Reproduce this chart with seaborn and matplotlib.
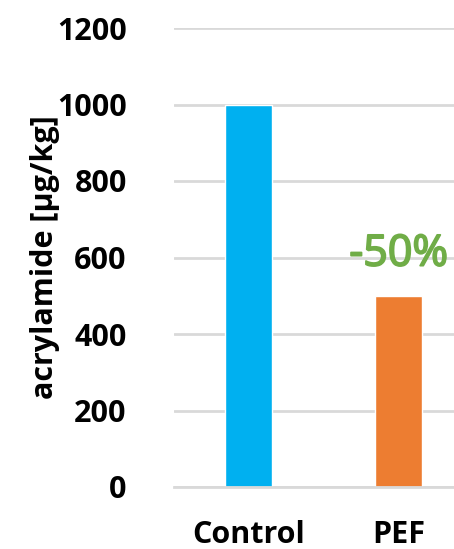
import matplotlib
matplotlib.use("Agg")
import matplotlib.pyplot as plt
import matplotlib.patheffects as pe
import pandas as pd
import seaborn as sns

categories = ["Control", "PEF"]
values = [1000, 500]
bar_colors = ["#00B0F0", "#ED7D31"]
y_ticks = [0, 200, 400, 600, 800, 1000, 1200]
change_label = "-50%"

sns.set_style("white")
plt.rcParams["font.family"] = ["Open Sans", "DejaVu Sans"]
plt.rcParams["text.color"] = "black"
plt.rcParams["xtick.color"] = "black"
plt.rcParams["ytick.color"] = "black"
plt.rcParams["axes.labelcolor"] = "black"

df = pd.DataFrame({"group": categories, "acrylamide": values})

fig = plt.figure(figsize=(4.54, 5.49), dpi=100)
ax = fig.add_axes([174 / 454, 1 - 487 / 549, 1 - 174 / 454, (487 - 28) / 549])

sns.barplot(data=df, x="group", y="acrylamide", hue="group", palette=bar_colors,
            width=0.315, legend=False, ax=ax, saturation=1)

ax.set_ylim(0, 1200)
ax.set_xlim(-0.5, 1.37)
ax.set_yticks(y_ticks)
ax.yaxis.grid(True, color="#D9D9D9", linewidth=2)
ax.set_axisbelow(True)
for s in ["top", "right", "left"]:
    ax.spines[s].set_visible(False)
ax.spines["bottom"].set_color("#D9D9D9")
ax.spines["bottom"].set_linewidth(2)
ax.tick_params(axis="y", length=0, pad=34, labelsize=22)
ax.tick_params(axis="x", length=0, pad=24, labelsize=22)
for lab in ax.get_xticklabels() + ax.get_yticklabels():
    lab.set_fontweight("bold")

ax.set_xlabel("")
ax.set_ylabel("acrylamide [µg/kg]", fontsize=22, fontweight="bold", labelpad=-2)

# the "-50%" label is a touch heavier than regular weight in the original
ax.text(1, values[1] + 50, change_label, ha="center", va="bottom",
        fontsize=31, color="#70AD47",
        path_effects=[pe.withStroke(linewidth=1.3, foreground="#70AD47")])

fig.savefig("out.png", dpi=100)
